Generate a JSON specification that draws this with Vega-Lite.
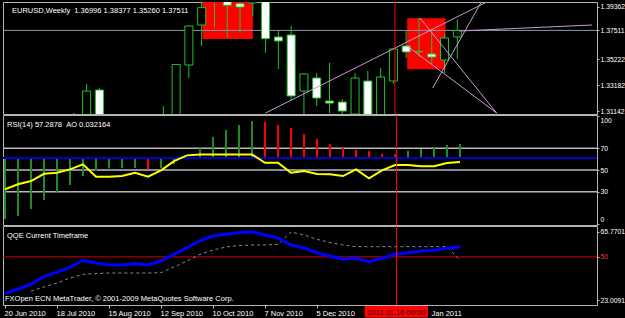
{
  "$schema": "https://vega.github.io/schema/vega-lite/v6.json",
  "background": "#000000",
  "padding": {"left": 1, "top": 1, "right": 0, "bottom": 0},
  "spacing": 1,
  "bounds": "flush",
  "config": {
    "view": {"stroke": "#b4b4b4", "strokeWidth": 1},
    "axis": {"labelFont": "Liberation Sans", "labelFontSize": 7.5, "labelColor": "#ffffff", "tickColor": "#c0c0c0", "tickSize": 3, "labelPadding": 1, "domain": false, "grid": false, "title": null, "labelFlush": false, "labelOverlap": false},
    "axisRight": {"labelFontSize": 6.8, "tickSize": 2, "labelPadding": 1},
    "text": {"font": "Liberation Sans", "fontSize": 7.5, "color": "#ffffff", "align": "left", "baseline": "alphabetic"}
  },
  "datasets": {
    "one": [{}],
    "candles": [
      {"date": "2010-06-20", "open": 1.2385, "high": 1.2390, "low": 1.2155, "close": 1.2230},
      {"date": "2010-06-27", "open": 1.2240, "high": 1.2590, "low": 1.2150, "close": 1.2565},
      {"date": "2010-07-04", "open": 1.2560, "high": 1.2720, "low": 1.2510, "close": 1.2640},
      {"date": "2010-07-11", "open": 1.2640, "high": 1.3030, "low": 1.2600, "close": 1.2940},
      {"date": "2010-07-18", "open": 1.2940, "high": 1.3030, "low": 1.2780, "close": 1.2900},
      {"date": "2010-07-25", "open": 1.2900, "high": 1.3098, "low": 1.2870, "close": 1.3060},
      {"date": "2010-08-01", "open": 1.3060, "high": 1.3328, "low": 1.3040, "close": 1.3272},
      {"date": "2010-08-08", "open": 1.3280, "high": 1.3296, "low": 1.2730, "close": 1.2750},
      {"date": "2010-08-15", "open": 1.2750, "high": 1.2900, "low": 1.2680, "close": 1.2715},
      {"date": "2010-08-22", "open": 1.2715, "high": 1.2800, "low": 1.2590, "close": 1.2760},
      {"date": "2010-08-29", "open": 1.2760, "high": 1.2900, "low": 1.2680, "close": 1.2890},
      {"date": "2010-09-05", "open": 1.2890, "high": 1.2945, "low": 1.2660, "close": 1.2710},
      {"date": "2010-09-12", "open": 1.2710, "high": 1.3154, "low": 1.2690, "close": 1.3050},
      {"date": "2010-09-19", "open": 1.3050, "high": 1.3486, "low": 1.2990, "close": 1.3482},
      {"date": "2010-09-26", "open": 1.3478, "high": 1.3790, "low": 1.3375, "close": 1.3786},
      {"date": "2010-10-03", "open": 1.3794, "high": 1.4030, "low": 1.3628, "close": 1.3931},
      {"date": "2010-10-10", "open": 1.3990, "high": 1.4160, "low": 1.3773, "close": 1.4050},
      {"date": "2010-10-17", "open": 1.4050, "high": 1.4110, "low": 1.3693, "close": 1.3950},
      {"date": "2010-10-24", "open": 1.3962, "high": 1.4010, "low": 1.3731, "close": 1.3936},
      {"date": "2010-10-31", "open": 1.3968, "high": 1.4280, "low": 1.3865, "close": 1.4020},
      {"date": "2010-11-07", "open": 1.4020, "high": 1.4120, "low": 1.3573, "close": 1.3686},
      {"date": "2010-11-14", "open": 1.3699, "high": 1.3747, "low": 1.3446, "close": 1.3668},
      {"date": "2010-11-21", "open": 1.3715, "high": 1.3786, "low": 1.3201, "close": 1.3233},
      {"date": "2010-11-28", "open": 1.3272, "high": 1.3415, "low": 1.2970, "close": 1.3407},
      {"date": "2010-12-05", "open": 1.3375, "high": 1.3415, "low": 1.3154, "close": 1.3217},
      {"date": "2010-12-12", "open": 1.3193, "high": 1.3494, "low": 1.3098, "close": 1.3177},
      {"date": "2010-12-19", "open": 1.3185, "high": 1.3209, "low": 1.3090, "close": 1.3114},
      {"date": "2010-12-26", "open": 1.3090, "high": 1.3415, "low": 1.3070, "close": 1.3375},
      {"date": "2011-01-02", "open": 1.3351, "high": 1.3430, "low": 1.2860, "close": 1.2965},
      {"date": "2011-01-09", "open": 1.2965, "high": 1.3454, "low": 1.2870, "close": 1.3383},
      {"date": "2011-01-16", "open": 1.3351, "high": 1.3610, "low": 1.3330, "close": 1.3604},
      {"date": "2011-01-23", "open": 1.3628, "high": 1.3747, "low": 1.3533, "close": 1.3581},
      {"date": "2011-01-30", "open": 1.3585, "high": 1.3849, "low": 1.3541, "close": 1.3581},
      {"date": "2011-02-06", "open": 1.3565, "high": 1.3747, "low": 1.3486, "close": 1.3541},
      {"date": "2011-02-13", "open": 1.3517, "high": 1.3723, "low": 1.3415, "close": 1.3691},
      {"date": "2011-02-20", "open": 1.36996, "high": 1.38377, "low": 1.35260, "close": 1.37511}
    ],
    "ind": [
      {"date": "2010-06-20", "ao": -0.1401, "rsi": 32.2, "qqe": 26.95, "sig": null},
      {"date": "2010-06-27", "ao": -0.1333, "rsi": 36.8, "qqe": 29.9, "sig": null},
      {"date": "2010-07-04", "ao": -0.1172, "rsi": 39.8, "qqe": 32.84, "sig": 28.64},
      {"date": "2010-07-11", "ao": -0.0965, "rsi": 46.5, "qqe": 37.72, "sig": 31.15},
      {"date": "2010-07-18", "ao": -0.0804, "rsi": 47.5, "qqe": 40.5, "sig": 33.65},
      {"date": "2010-07-25", "ao": -0.0620, "rsi": 50.6, "qqe": 43.36, "sig": 36.78},
      {"date": "2010-08-01", "ao": -0.0414, "rsi": 55.2, "qqe": 47.86, "sig": 39.1},
      {"date": "2010-08-08", "ao": -0.0299, "rsi": 43.8, "qqe": 45.98, "sig": 39.6},
      {"date": "2010-08-15", "ao": -0.0235, "rsi": 43.8, "qqe": 44.92, "sig": 39.9},
      {"date": "2010-08-22", "ao": -0.0232, "rsi": 44.4, "qqe": 44.92, "sig": 39.9},
      {"date": "2010-08-29", "ao": -0.0230, "rsi": 47.5, "qqe": 45.73, "sig": 39.9},
      {"date": "2010-09-05", "ao": -0.0253, "rsi": 43.8, "qqe": 44.92, "sig": 39.9},
      {"date": "2010-09-12", "ao": -0.0230, "rsi": 49.7, "qqe": 47.43, "sig": 40.1},
      {"date": "2010-09-19", "ao": -0.0138, "rsi": 58.2, "qqe": 51.62, "sig": 43.67},
      {"date": "2010-09-26", "ao": 0.0015, "rsi": 63.5, "qqe": 55.75, "sig": 47.42},
      {"date": "2010-10-03", "ao": 0.0230, "rsi": 64.4, "qqe": 60.26, "sig": 51.62},
      {"date": "2010-10-10", "ao": 0.0482, "rsi": 64.4, "qqe": 63.08, "sig": 54.3},
      {"date": "2010-10-17", "ao": 0.0643, "rsi": 64.4, "qqe": 64.14, "sig": 56.2},
      {"date": "2010-10-24", "ao": 0.0758, "rsi": 64.4, "qqe": 65.1, "sig": 57.1},
      {"date": "2010-10-31", "ao": 0.0850, "rsi": 64.4, "qqe": 65.77, "sig": 57.44},
      {"date": "2010-11-07", "ao": 0.0827, "rsi": 56.7, "qqe": 63.7, "sig": 57.5},
      {"date": "2010-11-14", "ao": 0.0758, "rsi": 56.7, "qqe": 61.83, "sig": 57.9},
      {"date": "2010-11-21", "ao": 0.0689, "rsi": 47.5, "qqe": 57.44, "sig": 65.58},
      {"date": "2010-11-28", "ao": 0.0551, "rsi": 49.0, "qqe": 55.57, "sig": 63.7},
      {"date": "2010-12-05", "ao": 0.0437, "rsi": 46.3, "qqe": 52.62, "sig": 61.01},
      {"date": "2010-12-12", "ao": 0.0322, "rsi": 46.0, "qqe": 50.56, "sig": 59.01},
      {"date": "2010-12-19", "ao": 0.0230, "rsi": 44.4, "qqe": 48.49, "sig": 57.44},
      {"date": "2010-12-26", "ao": 0.0184, "rsi": 50.6, "qqe": 49.12, "sig": 56.38},
      {"date": "2011-01-02", "ao": 0.0161, "rsi": 42.3, "qqe": 46.99, "sig": 56.38},
      {"date": "2011-01-09", "ao": 0.0092, "rsi": 49.7, "qqe": 49.12, "sig": 56.38},
      {"date": "2011-01-16", "ao": 0.0090, "rsi": 54.6, "qqe": 51.62, "sig": 56.38},
      {"date": "2011-01-23", "ao": 0.0161, "rsi": 54.6, "qqe": 52.62, "sig": 56.38},
      {"date": "2011-01-30", "ao": 0.0207, "rsi": 53.4, "qqe": 53.69, "sig": 56.38},
      {"date": "2011-02-06", "ao": 0.0253, "rsi": 53.4, "qqe": 54.13, "sig": 56.38},
      {"date": "2011-02-13", "ao": 0.0299, "rsi": 56.4, "qqe": 55.38, "sig": 56.38},
      {"date": "2011-02-20", "ao": 0.032164, "rsi": 57.2878, "qqe": 56.38, "sig": 47.86}
    ],
    "zones": [
      {"start": "2010-10-03T13:00:00Z", "end": "2010-10-31T00:00:00Z", "top": 1.4050, "bottom": 1.36833},
      {"start": "2011-01-23T13:00:00Z", "end": "2011-02-13T13:00:00Z", "top": 1.38469, "bottom": 1.34438}
    ],
    "lines": [
      {"start": "2010-11-07T00:00:00Z", "startPrice": 1.30984, "end": "2011-03-09T05:00:00Z", "endPrice": 1.39836},
      {"start": "2011-01-30T13:00:00Z", "startPrice": 1.38493, "end": "2011-03-13T13:00:00Z", "endPrice": 1.30984},
      {"start": "2011-01-23T13:00:00Z", "startPrice": 1.36279, "end": "2011-03-13T13:00:00Z", "endPrice": 1.30984},
      {"start": "2011-02-06T13:00:00Z", "startPrice": 1.32960, "end": "2011-03-05T11:00:00Z", "endPrice": 1.39836},
      {"start": "2011-02-21T01:00:00Z", "startPrice": 1.37465, "end": "2011-05-04T18:00:00Z", "endPrice": 1.37939}
    ]
  },
  "vconcat": [
    {
      "width": 594,
      "height": 112,
      "resolve": {"scale": {"y": "independent"}},
      "layer": [
        {
          "data": {"name": "zones"},
          "mark": {"type": "rect", "color": "#ff0000", "clip": true},
          "encoding": {
            "x": {"field": "start", "type": "temporal", "scale": {"type": "utc", "domain": [{"year": 2010, "month": 6, "date": 18, "hours": 22, "minutes": 9, "utc": true}, {"year": 2011, "month": 5, "date": 4, "hours": 18, "minutes": 28, "utc": true}]}, "axis": null},
            "x2": {"field": "end"},
            "y": {"field": "top", "type": "quantitative", "scale": {"domain": [1.30905, 1.39757], "zero": false, "nice": false}, "axis": null},
            "y2": {"field": "bottom"}
          }
        },
        {
          "data": {"name": "one"},
          "mark": {"type": "rule", "color": "#8c96a5", "strokeWidth": 1},
          "encoding": {
            "y": {"datum": 1.37511, "type": "quantitative", "scale": {"domain": [1.30905, 1.39757], "zero": false, "nice": false}, "axis": null}
          }
        },
        {
          "data": {"name": "candles"},
          "mark": {"type": "rule", "color": "#22c322", "strokeWidth": 1, "clip": true},
          "encoding": {
            "x": {"field": "date", "type": "temporal", "scale": {"type": "utc", "domain": [{"year": 2010, "month": 6, "date": 18, "hours": 22, "minutes": 9, "utc": true}, {"year": 2011, "month": 5, "date": 4, "hours": 18, "minutes": 28, "utc": true}]}, "axis": null},
            "y": {"field": "low", "type": "quantitative", "scale": {"domain": [1.30905, 1.39757], "zero": false, "nice": false},
              "axis": {"orient": "right", "values": [1.31142, 1.33182, 1.35222, 1.37511, 1.39362], "format": ".5f"}},
            "y2": {"field": "high"}
          }
        },
        {
          "data": {"name": "candles"},
          "mark": {"type": "bar", "width": 8, "stroke": "#22c322", "strokeWidth": 1, "clip": true},
          "encoding": {
            "x": {"field": "date", "type": "temporal", "scale": {"type": "utc", "domain": [{"year": 2010, "month": 6, "date": 18, "hours": 22, "minutes": 9, "utc": true}, {"year": 2011, "month": 5, "date": 4, "hours": 18, "minutes": 28, "utc": true}]}, "axis": null},
            "y": {"field": "open", "type": "quantitative", "scale": {"domain": [1.30905, 1.39757], "zero": false, "nice": false}, "axis": null},
            "y2": {"field": "close"},
            "fill": {"condition": {"test": "datum.close < datum.open", "value": "#ffffff"}, "value": "#000000"}
          }
        },
        {
          "data": {"name": "lines"},
          "mark": {"type": "rule", "color": "#c89bd2", "strokeWidth": 1, "clip": true},
          "encoding": {
            "x": {"field": "start", "type": "temporal", "scale": {"type": "utc", "domain": [{"year": 2010, "month": 6, "date": 18, "hours": 22, "minutes": 9, "utc": true}, {"year": 2011, "month": 5, "date": 4, "hours": 18, "minutes": 28, "utc": true}]}, "axis": null},
            "x2": {"field": "end"},
            "y": {"field": "startPrice", "type": "quantitative", "scale": {"domain": [1.30905, 1.39757], "zero": false, "nice": false}, "axis": null},
            "y2": {"field": "endPrice"}
          }
        },
        {
          "data": {"name": "one"},
          "mark": {"type": "rule", "color": "#ff0000", "strokeWidth": 1},
          "encoding": {
            "x": {"datum": {"year": 2011, "month": 1, "date": 16, "hours": 20, "utc": true}, "type": "temporal", "scale": {"type": "utc", "domain": [{"year": 2010, "month": 6, "date": 18, "hours": 22, "minutes": 9, "utc": true}, {"year": 2011, "month": 5, "date": 4, "hours": 18, "minutes": 28, "utc": true}]}, "axis": null}
          }
        },
        {
          "data": {"name": "one"},
          "mark": {"type": "text", "text": "EURUSD,Weekly\u00a0\u00a01.36996 1.38377 1.35260 1.37511", "dx": 2},
          "encoding": {
            "x": {"datum": {"year": 2010, "month": 6, "date": 20, "utc": true}, "type": "temporal", "scale": {"type": "utc", "domain": [{"year": 2010, "month": 6, "date": 18, "hours": 22, "minutes": 9, "utc": true}, {"year": 2011, "month": 5, "date": 4, "hours": 18, "minutes": 28, "utc": true}]}, "axis": null},
            "y": {"datum": 1.38888, "type": "quantitative", "scale": {"domain": [1.30905, 1.39757], "zero": false, "nice": false}, "axis": null}
          }
        }
      ]
    },
    {
      "width": 594,
      "height": 110,
      "resolve": {"scale": {"y": "independent"}},
      "layer": [
        {
          "data": {"values": [{"level": 70}, {"level": 50}, {"level": 30}]},
          "mark": {"type": "rule", "color": "#b8b8b8", "strokeWidth": 1.5},
          "encoding": {
            "y": {"field": "level", "type": "quantitative", "scale": {"domain": [-0.74, 100.74], "nice": false, "zero": false}, "axis": null}
          }
        },
        {
          "data": {"name": "ind"},
          "transform": [{"window": [{"op": "lag", "field": "ao", "as": "prev"}], "sort": [{"field": "date", "order": "ascending"}]}],
          "mark": {"type": "rule", "strokeWidth": 2, "clip": true},
          "encoding": {
            "x": {"field": "date", "type": "temporal", "scale": {"type": "utc", "domain": [{"year": 2010, "month": 6, "date": 18, "hours": 22, "minutes": 9, "utc": true}, {"year": 2011, "month": 5, "date": 4, "hours": 18, "minutes": 28, "utc": true}]}, "axis": null},
            "y": {"field": "ao", "type": "quantitative", "scale": {"domain": [-0.15393, 0.09879], "nice": false, "zero": false}, "axis": null},
            "y2": {"datum": 0},
            "color": {"condition": {"test": "datum.prev != null && datum.ao < datum.prev", "value": "#ff0000"}, "value": "#228b22"}
          }
        },
        {
          "data": {"name": "one"},
          "mark": {"type": "rule", "color": "#0000c8", "strokeWidth": 2},
          "encoding": {
            "y": {"datum": 0, "type": "quantitative", "scale": {"domain": [-0.15393, 0.09879], "nice": false, "zero": false}, "axis": null}
          }
        },
        {
          "data": {"name": "ind"},
          "mark": {"type": "line", "color": "#ffff00", "strokeWidth": 2, "clip": true},
          "encoding": {
            "x": {"field": "date", "type": "temporal", "scale": {"type": "utc", "domain": [{"year": 2010, "month": 6, "date": 18, "hours": 22, "minutes": 9, "utc": true}, {"year": 2011, "month": 5, "date": 4, "hours": 18, "minutes": 28, "utc": true}]}, "axis": null},
            "y": {"field": "rsi", "type": "quantitative", "scale": {"domain": [-0.74, 100.74], "nice": false, "zero": false},
              "axis": {"orient": "right", "values": [0, 30, 50, 70, 100],
                "labelOffset": {"condition": [{"test": "datum.value == 100", "value": 5}, {"test": "datum.value == 0", "value": -5}], "value": 0}}}
          }
        },
        {
          "data": {"name": "one"},
          "mark": {"type": "rule", "color": "#ff0000", "strokeWidth": 1},
          "encoding": {
            "x": {"datum": {"year": 2011, "month": 1, "date": 16, "hours": 20, "utc": true}, "type": "temporal", "scale": {"type": "utc", "domain": [{"year": 2010, "month": 6, "date": 18, "hours": 22, "minutes": 9, "utc": true}, {"year": 2011, "month": 5, "date": 4, "hours": 18, "minutes": 28, "utc": true}]}, "axis": null}
          }
        },
        {
          "data": {"name": "one"},
          "mark": {"type": "text", "text": "RSI(14) 57.2878\u00a0\u00a0AO 0.032164", "dx": 2},
          "encoding": {
            "x": {"datum": {"year": 2010, "month": 6, "date": 20, "utc": true}, "type": "temporal", "scale": {"type": "utc", "domain": [{"year": 2010, "month": 6, "date": 18, "hours": 22, "minutes": 9, "utc": true}, {"year": 2011, "month": 5, "date": 4, "hours": 18, "minutes": 28, "utc": true}]}, "axis": null},
            "y": {"datum": 89.6, "type": "quantitative", "scale": {"domain": [-0.74, 100.74], "nice": false, "zero": false}, "axis": null}
          }
        }
      ]
    },
    {
      "width": 594,
      "height": 79,
      "resolve": {"scale": {"y": "independent"}, "axis": {"x": "independent"}},
      "layer": [
        {
          "data": {"name": "one"},
          "mark": {"type": "rule", "color": "#d00000", "strokeWidth": 1},
          "encoding": {
            "y": {"datum": 50, "type": "quantitative", "scale": {"domain": [19.88, 69.34], "nice": false, "zero": false}, "axis": null}
          }
        },
        {
          "data": {"name": "ind"},
          "mark": {"type": "line", "color": "#8c8c8c", "strokeWidth": 1, "strokeDash": [3, 3], "clip": true},
          "encoding": {
            "x": {"field": "date", "type": "temporal", "scale": {"type": "utc", "domain": [{"year": 2010, "month": 6, "date": 18, "hours": 22, "minutes": 9, "utc": true}, {"year": 2011, "month": 5, "date": 4, "hours": 18, "minutes": 28, "utc": true}]},
              "axis": {"orient": "bottom", "format": "%-d %b %Y", "labelAlign": "left", "labelBaseline": "top", "labelPadding": 1,
                "labelExpr": "datum.label == '2 Jan 2011' ? '' : (datum.label == '30 Jan 2011' ? 'Jan 2011' : datum.label)",
                "labelOffset": {"condition": {"test": "datum.value >= 1296000000000", "value": 10}, "value": -1},
                "values": [
                  {"year": 2010, "month": 6, "date": 20, "utc": true},
                  {"year": 2010, "month": 7, "date": 18, "utc": true},
                  {"year": 2010, "month": 8, "date": 15, "utc": true},
                  {"year": 2010, "month": 9, "date": 12, "utc": true},
                  {"year": 2010, "month": 10, "date": 10, "utc": true},
                  {"year": 2010, "month": 11, "date": 7, "utc": true},
                  {"year": 2010, "month": 12, "date": 5, "utc": true},
                  {"year": 2011, "month": 1, "date": 2, "utc": true},
                  {"year": 2011, "month": 1, "date": 30, "utc": true}
                ]}},
            "y": {"field": "sig", "type": "quantitative", "scale": {"domain": [19.88, 69.34], "nice": false, "zero": false}, "axis": null}
          }
        },
        {
          "data": {"name": "ind"},
          "mark": {"type": "line", "color": "#0000ff", "strokeWidth": 3, "clip": true},
          "encoding": {
            "x": {"field": "date", "type": "temporal", "scale": {"type": "utc", "domain": [{"year": 2010, "month": 6, "date": 18, "hours": 22, "minutes": 9, "utc": true}, {"year": 2011, "month": 5, "date": 4, "hours": 18, "minutes": 28, "utc": true}]}, "axis": null},
            "y": {"field": "qqe", "type": "quantitative", "scale": {"domain": [19.88, 69.34], "nice": false, "zero": false},
              "axis": {"orient": "right", "values": [23.0091, 50, 65.7701], "labelExpr": "datum.value == 50 ? '50' : format(datum.value, '.4f')",
                "labelColor": {"condition": {"test": "datum.value == 50", "value": "#ff3030"}, "value": "#ffffff"}}}
          }
        },
        {
          "data": {"name": "one"},
          "mark": {"type": "rule", "color": "#ff0000", "strokeWidth": 1},
          "encoding": {
            "x": {"datum": {"year": 2011, "month": 1, "date": 16, "hours": 20, "utc": true}, "type": "temporal", "scale": {"type": "utc", "domain": [{"year": 2010, "month": 6, "date": 18, "hours": 22, "minutes": 9, "utc": true}, {"year": 2011, "month": 5, "date": 4, "hours": 18, "minutes": 28, "utc": true}]}, "axis": null}
          }
        },
        {
          "data": {"name": "one"},
          "mark": {"type": "text", "text": "QQE Current Timeframe", "dx": 2},
          "encoding": {
            "x": {"datum": {"year": 2010, "month": 6, "date": 20, "utc": true}, "type": "temporal", "scale": {"type": "utc", "domain": [{"year": 2010, "month": 6, "date": 18, "hours": 22, "minutes": 9, "utc": true}, {"year": 2011, "month": 5, "date": 4, "hours": 18, "minutes": 28, "utc": true}]}, "axis": null},
            "y": {"datum": 61.83, "type": "quantitative", "scale": {"domain": [19.88, 69.34], "nice": false, "zero": false}, "axis": null}
          }
        },
        {
          "data": {"name": "one"},
          "mark": {"type": "text", "text": "FXOpen ECN MetaTrader, \u00a9 2001-2009 MetaQuotes Software Corp."},
          "encoding": {
            "x": {"datum": {"year": 2010, "month": 6, "date": 20, "utc": true}, "type": "temporal", "scale": {"type": "utc", "domain": [{"year": 2010, "month": 6, "date": 18, "hours": 22, "minutes": 9, "utc": true}, {"year": 2011, "month": 5, "date": 4, "hours": 18, "minutes": 28, "utc": true}]}, "axis": null},
            "y": {"datum": 22.38, "type": "quantitative", "scale": {"domain": [19.88, 69.34], "nice": false, "zero": false}, "axis": null}
          }
        },
        {
          "data": {"name": "one"},
          "mark": {"type": "rect", "color": "#ff0000"},
          "encoding": {
            "x": {"datum": {"year": 2010, "month": 12, "date": 30, "hours": 16, "minutes": 20, "utc": true}, "type": "temporal", "scale": {"type": "utc", "domain": [{"year": 2010, "month": 6, "date": 18, "hours": 22, "minutes": 9, "utc": true}, {"year": 2011, "month": 5, "date": 4, "hours": 18, "minutes": 28, "utc": true}]}, "axis": null},
            "x2": {"datum": {"year": 2011, "month": 2, "date": 2, "hours": 18, "minutes": 30, "utc": true}},
            "y": {"datum": 19.25, "type": "quantitative", "scale": {"domain": [19.88, 69.34], "nice": false, "zero": false}, "axis": null},
            "y2": {"datum": 12.05}
          }
        },
        {
          "data": {"name": "one"},
          "mark": {"type": "text", "text": "2011.01.16 00:00", "align": "center", "color": "#300000"},
          "encoding": {
            "x": {"datum": {"year": 2011, "month": 1, "date": 16, "hours": 18, "utc": true}, "type": "temporal", "scale": {"type": "utc", "domain": [{"year": 2010, "month": 6, "date": 18, "hours": 22, "minutes": 9, "utc": true}, {"year": 2011, "month": 5, "date": 4, "hours": 18, "minutes": 28, "utc": true}]}, "axis": null},
            "y": {"datum": 13.62, "type": "quantitative", "scale": {"domain": [19.88, 69.34], "nice": false, "zero": false}, "axis": null}
          }
        }
      ]
    }
  ]
}
